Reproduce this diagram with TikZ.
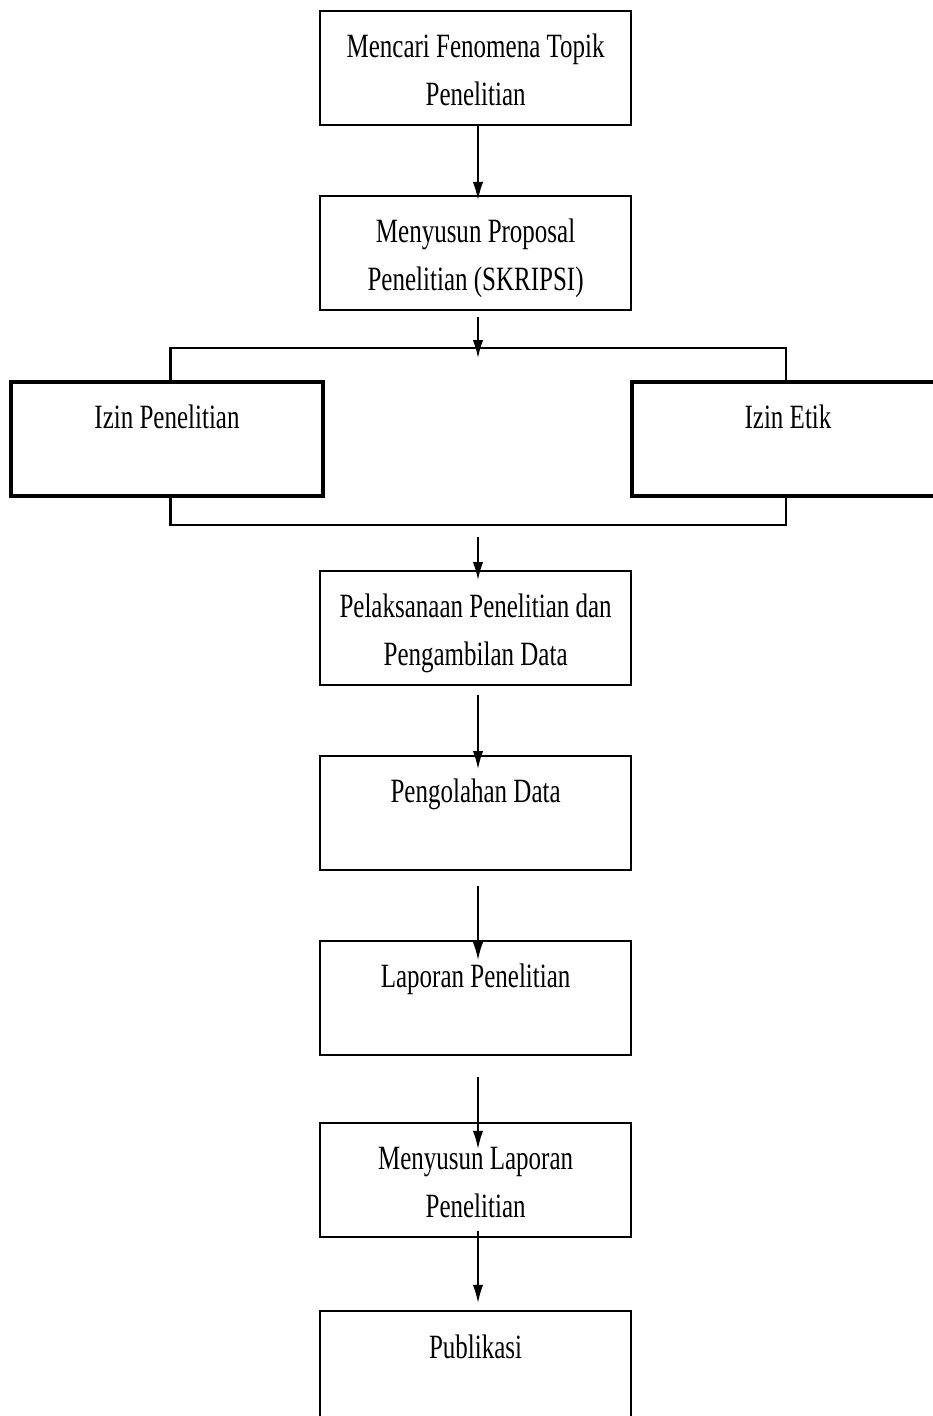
\documentclass[tikz,border=0pt]{standalone}
\usepackage{fontspec}
\setmainfont[FakeStretch=0.735]{Liberation Serif}
\usetikzlibrary{arrows.meta}

\tikzset{
  tahap/.style={draw, line width=1.4pt, anchor=north, inner sep=0pt,
    text width=7.775cm, align=flush center, text height=1.175cm,
    text depth=1.675cm, font=\fontsize{24.2}{34.1}\selectfont},
  izin/.style={tahap, line width=2.8pt, text width=7.8cm},
  kurung/.style={line width=2.1pt},
  panah/.style={-{Latex[length=0.45cm,width=0.26cm]}, line width=1.1pt}
}

\begin{document}
\begin{tikzpicture}
    \useasboundingbox (0,0) rectangle (23.3,-35.4);

    \node [tahap] (cari) at (11.89,-0.25)
      {Mencari Fenomena Topik\\Penelitian};
    \node [tahap] (proposal) at (11.89,-4.875)
      {Menyusun Proposal\\Penelitian (SKRIPSI)};

    \node [izin] (izinA) at (4.175,-9.5) {Izin Penelitian};
    \node [izin] (izinB) at (19.7,-9.5) {Izin Etik};

    \node [tahap] (laksana) at (11.89,-14.25)
      {Pelaksanaan Penelitian dan\\Pengambilan Data};
    \node [tahap] (olah) at (11.89,-18.875) {Pengolahan Data};
    \node [tahap] (laporan) at (11.89,-23.5) {Laporan Penelitian};
    \node [tahap] (susun) at (11.89,-28.05)
      {Menyusun Laporan\\Penelitian};
    \node [tahap] (publikasi) at (11.89,-32.75) {Publikasi};

    \coordinate (splitL) at (4.27,-8.7);
    \coordinate (splitM) at (11.95,-8.7);
    \coordinate (splitR) at (19.65,-8.7);
    \coordinate (joinL) at (4.27,-13.125);
    \coordinate (joinM) at (11.95,-13.125);
    \coordinate (joinR) at (19.65,-13.125);

    \draw [kurung] (izinA.north -| splitL) -- (splitL) -- (splitR)
      -- (izinB.north -| splitR);
    \draw [kurung] (izinA.south -| joinL) -- (joinL) -- (joinR)
      -- (izinB.south -| joinR);

    \draw [panah, shorten >=-0.125cm] ([xshift=0.06cm]cari.south)
      -- ([xshift=0.06cm]proposal.north);
    \draw [panah, shorten <=0.15cm, shorten >=-0.25cm]
      ([xshift=0.06cm]proposal.south) -- (splitM);
    \draw [panah, shorten <=0.3cm, shorten >=-0.25cm]
      (joinM) -- ([xshift=0.06cm]laksana.north);
    \draw [panah, shorten <=0.22cm, shorten >=-0.35cm]
      ([xshift=0.06cm]laksana.south) -- ([xshift=0.06cm]olah.north);
    \draw [panah, shorten <=0.37cm, shorten >=-0.5cm]
      ([xshift=0.06cm]olah.south) -- ([xshift=0.06cm]laporan.north);
    \draw [panah, shorten <=0.52cm, shorten >=-0.67cm]
      ([xshift=0.06cm]laporan.south) -- ([xshift=0.06cm]susun.north);
    \draw [panah, shorten <=-0.18cm, shorten >=0.18cm]
      ([xshift=0.06cm]susun.south) -- ([xshift=0.06cm]publikasi.north);
\end{tikzpicture}
\end{document}
